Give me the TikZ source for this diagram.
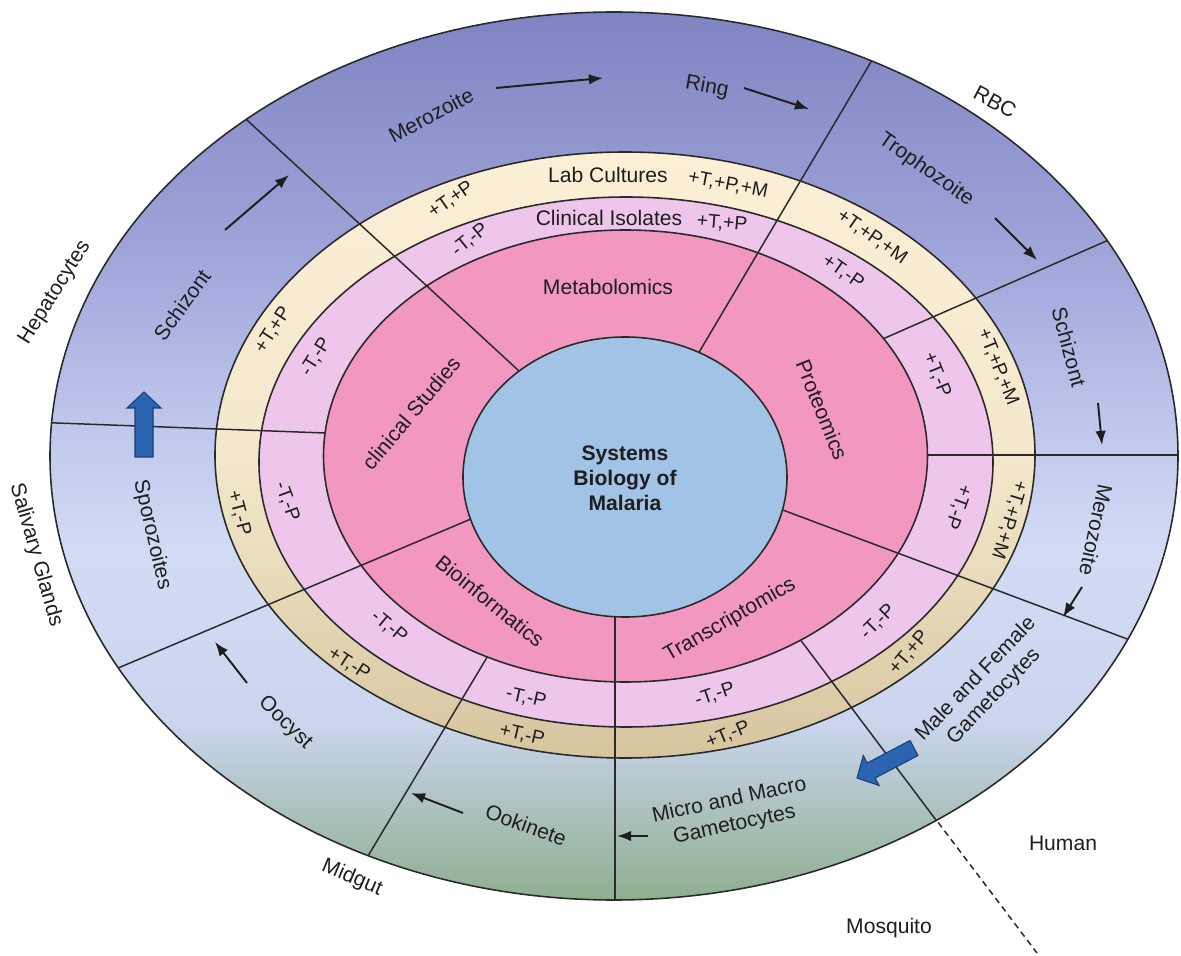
\documentclass[tikz,border=0pt]{standalone}
\usepackage{fontspec}
\setmainfont{Liberation Sans}
\usetikzlibrary{arrows.meta}

\definecolor{txt}{HTML}{1E1E1E}
\definecolor{edge}{HTML}{2A2A2A}
\definecolor{stagetop}{HTML}{7F84C2}
\definecolor{stageB}{HTML}{9EA4D8}
\definecolor{stageC}{HTML}{BEC6EC}
\definecolor{stageD}{HTML}{D2DBF4}
\definecolor{stageE}{HTML}{CBD6EE}
\definecolor{stageF}{HTML}{AFC3C4}
\definecolor{stagebot}{HTML}{8FAE90}
\definecolor{culttop}{HTML}{FBF0D6}
\definecolor{cultmid}{HTML}{F3E8CC}
\definecolor{cultlow}{HTML}{E6D8B6}
\definecolor{cultbot}{HTML}{D6C49E}
\definecolor{isolate}{HTML}{EEC6EC}
\definecolor{omics}{HTML}{F197C0}
\definecolor{core}{HTML}{A1C3E6}
\definecolor{arrowblue}{HTML}{2B64B0}
\definecolor{arrowedge}{HTML}{1C3D78}

\pgfdeclareverticalshading{stageshade}{100bp}{color(0bp)=(stagebot); color(25bp)=(stagebot);
  color(30.6bp)=(stageF); color(35.1bp)=(stageE); color(44.7bp)=(stageD);
  color(52bp)=(stageC); color(61.7bp)=(stageB); color(75bp)=(stagetop); color(100bp)=(stagetop)}
\pgfdeclareverticalshading{cultureshade}{100bp}{color(0bp)=(cultbot); color(25bp)=(cultbot);
  color(38bp)=(cultlow); color(50bp)=(cultmid); color(75bp)=(culttop); color(100bp)=(culttop)}

\tikzset{
  ring/.style={draw=edge, line width=0.9pt},
  divider/.style={draw=edge, line width=0.85pt},
  lbl/.style={font=\fontsize{12}{14.2}\selectfont, text=txt, inner sep=0pt},
  code/.style={font=\fontsize{11}{13}\selectfont, text=txt, inner sep=0pt},
  flow/.style={-{Latex[length=8pt,width=6pt]}, line width=1.1pt, draw=txt},
  bigarrow/.style={fill=arrowblue, draw=arrowedge, line width=0.6pt}
}

\begin{document}
\begin{tikzpicture}[x=0.02cm, y=-0.02cm]
\useasboundingbox (0, 0) rectangle (1181, 956);

\draw[divider, dash pattern=on 3.5pt off 2.5pt](900, 772) to (1037, 953);

% rings, outside in
\shade[shading=stageshade](614, 456) ellipse [x radius=564, y radius=444];
\draw[ring](614, 456) ellipse [x radius=564, y radius=444];
\shade[shading=cultureshade](625, 455) ellipse [x radius=410, y radius=303];
\draw[ring](625, 455) ellipse [x radius=410, y radius=303];
\fill[isolate](626, 462) ellipse [x radius=367, y radius=265];
\draw[ring](626, 462) ellipse [x radius=367, y radius=265];

\begin{scope}
  \clip(614, 456) ellipse [x radius=564, y radius=444];
  \draw[divider](352, 434) to (30, 422);
  \draw[divider](501, 634) to (356, 876);
  \draw[divider](781, 614) to (948, 836);
  \draw[divider](900, 455) to (1200, 455);
  \draw[divider](853, 352) to (1136, 228);
\end{scope}

\fill[omics](625.5, 456) ellipse [x radius=302, y radius=226];
\draw[ring](625.5, 456) ellipse [x radius=302, y radius=226];

\begin{scope}
  \clip(614, 456) ellipse [x radius=564, y radius=444];
  \draw[divider](545, 395) to (222, 97);
  \draw[divider](685, 376) to (891, 28);
  \draw[divider](497, 508) to (85, 682);
  \draw[divider](615, 600) to (615, 920);
  \draw[divider](748, 497) to (1170, 655);
\end{scope}

\fill[core](625, 477) ellipse [x radius=162, y radius=140];
\draw[ring](625, 477) ellipse [x radius=162, y radius=140];

% life cycle arrows
\draw[flow](496, 88) to (603, 78);
\draw[flow](744, 88) to (809, 109);
\draw[flow](995, 218) to (1037, 260);
\draw[flow](1098, 403) to (1102, 445);
\draw[flow](1082, 587) to (1063, 617);
\draw[flow](648, 836) to (617, 836);
\draw[flow](463, 813) to (411, 793);
\draw[flow](247, 683) to (215, 642);
\draw[flow](225, 230) to (289, 175);
\filldraw[bigarrow](135, 457) -- (135, 408) -- (127, 408) -- (144, 392) -- (161, 408) -- (153, 408) -- (153, 457) -- cycle;
\filldraw[bigarrow](910, 740.5) -- (867.2, 763) -- (863.3, 755.5) -- (857, 778) -- (879.1, 785.5) -- (875.2, 778) -- (918, 755.5) -- cycle;

\node[lbl, font=\bfseries\fontsize{12}{14.2}\selectfont, align=center] at(625, 478)(center){Systems\\Biology of\\Malaria};

\node[lbl] at(608, 287)(metab){Metabolomics};
\node[lbl, rotate=-68] at(822, 410)(prot){Proteomics};
\node[lbl, rotate=30] at(730, 620)(trans){Transcriptomics};
\node[lbl, rotate=-39] at(490, 601)(bioinf){Bioinformatics};
\node[lbl, rotate=50] at(411, 413)(clinstud){clinical Studies};

\node[lbl] at(609, 218)(isolates){Clinical Isolates};
\node[code, rotate=-5] at(722, 223)(iso1){+T,+P};
\node[code, rotate=39] at(470, 240)(iso2){-T,-P};
\node[code, rotate=58] at(316, 357)(iso3){-T,-P};
\node[code, rotate=-70] at(287, 502)(iso4){-T,-P};
\node[code, rotate=-40] at(389, 627)(iso5){-T,-P};
\node[code, rotate=-13] at(526, 698)(iso6){-T,-P};
\node[code, rotate=19] at(715, 695)(iso7){-T,-P};
\node[code, rotate=45] at(878, 622)(iso8){-T,-P};
\node[code, rotate=-110] at(958, 507)(iso9){+T,-P};
\node[code, rotate=-68] at(937, 375)(iso10){+T,-P};
\node[code, rotate=-35] at(843, 272)(iso11){+T,-P};

\node[lbl] at(608, 175)(lab){Lab Cultures};
\node[code, rotate=-11] at(728, 185)(lab1){+T,+P,+M};
\node[code, rotate=35] at(451, 200)(lab2){+T,+P};
\node[code, rotate=57] at(273, 330)(lab3){+T,+P};
\node[code, rotate=-75] at(239, 513)(lab4){+T,-P};
\node[code, rotate=-33] at(349, 664)(lab5){+T,-P};
\node[code, rotate=-13] at(522, 735)(lab6){+T,-P};
\node[code, rotate=23] at(728, 735)(lab7){+T,-P};
\node[code, rotate=50] at(909, 653)(lab8){+T,+P};
\node[code, rotate=-107] at(1009, 520)(lab9){+T,+P,+M};
\node[code, rotate=-68] at(998, 367)(lab10){+T,+P,+M};
\node[code, rotate=-35] at(872, 237)(lab11){+T,+P,+M};

\node[lbl, rotate=28] at(431, 115)(merozoiteA){Merozoite};
\node[lbl, rotate=-10] at(707, 87)(ring){Ring};
\node[lbl, rotate=-35] at(926, 170)(tropho){Trophozoite};
\node[lbl, rotate=-75] at(1069, 347)(schizontB){Schizont};
\node[lbl, rotate=-102] at(1096, 530)(merozoiteB){Merozoite};
\node[lbl, rotate=46, align=center] at(985, 688)(gamhuman){Male and Female\\Gametocytes};
\node[lbl, rotate=12, align=center] at(732, 813)(gammosq){Micro and Macro\\Gametocytes};
\node[lbl, rotate=-20] at(526, 825)(ookinete){Ookinete};
\node[lbl, rotate=-44] at(285, 723)(oocyst){Oocyst};
\node[lbl, rotate=-77] at(152, 535)(sporo){Sporozoites};
\node[lbl, rotate=54] at(182, 305)(schizontA){Schizont};

\node[lbl, rotate=58] at(55, 293)(hepato){Hepatocytes};
\node[lbl, rotate=-28] at(995, 102)(rbc){RBC};
\node[lbl, rotate=-74] at(36, 555)(salivary){Salivary Glands};
\node[lbl, rotate=-23] at(352, 878)(midgut){Midgut};
\node[lbl] at(1063, 843)(human){Human};
\node[lbl] at(889, 928)(mosquito){Mosquito};
\end{tikzpicture}
\end{document}
